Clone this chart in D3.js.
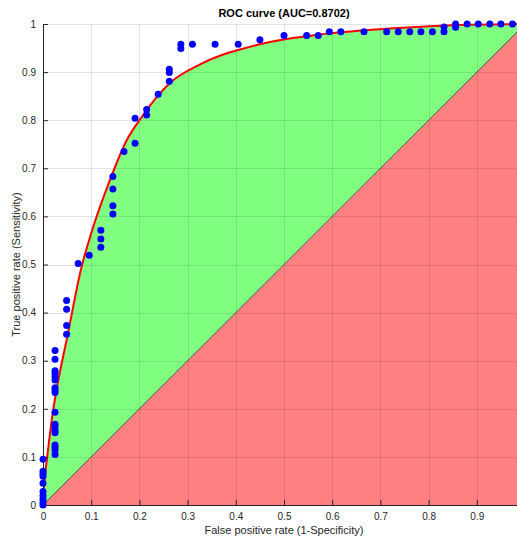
<!DOCTYPE html>
<html>
<head>
<meta charset="utf-8">
<script src="https://cdn.jsdelivr.net/npm/d3@7"></script>
<style>
  body { margin: 0; background: #fff; }
  svg { display: block; font-family: "Liberation Sans", Arial, sans-serif; }
</style>
</head>
<body>
<svg width="517" height="537"></svg>
<script>
// ROC points (false positive rate / true positive rate)
let fpr = [
  0, 0, 0, 0, 0, 0, 0, 0, 0, 0,
  0.025, 0.025, 0.025, 0.025, 0.025, 0.025, 0.025, 0.025, 0.025,
  0.025, 0.025, 0.025, 0.025, 0.025, 0.025, 0.025, 0.025, 0.025,
  0.049, 0.049, 0.049, 0.049,
  0.073, 0.096, 0.120, 0.120, 0.120,
  0.145, 0.145, 0.145, 0.145,
  0.168, 0.191, 0.191, 0.215, 0.215, 0.239,
  0.262, 0.262, 0.262, 0.286, 0.286, 0.31, 0.357, 0.405, 0.45,
  0.5, 0.547, 0.571, 0.594, 0.618, 0.666, 0.713, 0.737, 0.761, 0.784, 0.808,
  0.832, 0.832, 0.856, 0.856, 0.88, 0.903, 0.927, 0.95, 0.974
];
let tpr = [
  0, 0.005, 0.012, 0.02, 0.028, 0.045, 0.06, 0.065, 0.07, 0.095,
  0.105, 0.114, 0.12, 0.125, 0.15, 0.155, 0.162, 0.168, 0.193,
  0.234, 0.239, 0.244, 0.26, 0.267, 0.274, 0.279, 0.303, 0.321,
  0.355, 0.373, 0.407, 0.425,
  0.502, 0.519, 0.536, 0.553, 0.571,
  0.605, 0.622, 0.657, 0.683,
  0.735, 0.752, 0.804, 0.811, 0.822, 0.854,
  0.881, 0.899, 0.906, 0.949, 0.958, 0.958, 0.958, 0.958, 0.967,
  0.976, 0.976, 0.976, 0.984, 0.984, 0.984, 0.984, 0.984, 0.984, 0.984, 0.984,
  0.984, 0.994, 0.993, 1, 1, 1, 1, 1, 1
];

// fitted curve (red), estimated
let curveFpr = [0, 0.003, 0.008, 0.02, 0.03, 0.049, 0.08, 0.1, 0.139, 0.174, 0.2, 0.263, 0.326, 0.45, 0.589, 0.727, 0.865, 1];
let curveTpr = [0, 0.05, 0.094, 0.19, 0.25, 0.343, 0.495, 0.565, 0.676, 0.759, 0.8, 0.877, 0.916, 0.958, 0.98, 0.991, 0.998, 1];

// the x axis runs past the right edge of the picture, so 1 is not shown there
let xTicks = [0, 0.1, 0.2, 0.3, 0.4, 0.5, 0.6, 0.7, 0.8, 0.9];
let yTicks = [0, 0.1, 0.2, 0.3, 0.4, 0.5, 0.6, 0.7, 0.8, 0.9, 1];

let titleText = "ROC curve (AUC=0.8702)";
let xLabel = "False positive rate (1-Specificity)";
let yLabel = "True positive rate (Sensitivity)";

let svg = d3.select("svg");

let x = d3.scaleLinear().domain([0, 1]).range([43, 525]);
let y = d3.scaleLinear().domain([0, 1]).range([505, 24]);

let ink = "#262626";

// red area below the diagonal
svg.append("path")
    .attr("d", d3.line().x(d => x(d[0])).y(d => y(d[1]))([[0, 0], [1, 0], [1, 1]]) + "Z")
    .attr("fill", "#ff8080");

// green area between curve and diagonal
let curvePts = curveFpr.map((f, i) => [f, curveTpr[i]]);
let curveLine = d3.line().x(d => x(d[0])).y(d => y(d[1])).curve(d3.curveMonotoneX);
svg.append("path")
    .attr("d", curveLine(curvePts) + "L" + x(0) + "," + y(0) + "Z")
    .attr("fill", "#80ff80");

// grid on top of the fills
let grid = svg.append("g").attr("stroke", ink).attr("stroke-opacity", 0.13).attr("stroke-width", 1);
grid.selectAll("line.gx")
    .data(xTicks.slice(1))
    .enter().append("line")
    .attr("x1", d => Math.round(x(d)) + 0.5).attr("x2", d => Math.round(x(d)) + 0.5)
    .attr("y1", y(0)).attr("y2", y(1));
grid.selectAll("line.gy")
    .data(yTicks.slice(1))
    .enter().append("line")
    .attr("y1", d => Math.round(y(d)) + 0.5).attr("y2", d => Math.round(y(d)) + 0.5)
    .attr("x1", x(0)).attr("x2", x(1));

// diagonal
svg.append("line")
    .attr("x1", x(0)).attr("y1", y(0))
    .attr("x2", x(1)).attr("y2", y(1))
    .attr("stroke", "#000").attr("stroke-width", 0.6);

// fitted curve
svg.append("path")
    .attr("d", curveLine(curvePts))
    .attr("fill", "none")
    .attr("stroke", "#ff0000")
    .attr("stroke-width", 2);

// axes
let xAxis = d3.axisBottom(x).tickValues(xTicks).tickSize(-5).tickPadding(8)
    .tickFormat(d => d === 0 ? "0" : d3.format("")(d));
let yAxis = d3.axisLeft(y).tickValues(yTicks).tickSize(-5).tickPadding(7)
    .tickFormat(d => d === 0 ? "0" : d3.format("")(d));

let gx = svg.append("g").attr("transform", "translate(0," + y(0) + ")").call(xAxis);
let gy = svg.append("g").attr("transform", "translate(" + x(0) + ",0)").call(yAxis);
[gx, gy].forEach(g => {
  g.select(".domain").attr("stroke", ink);
  g.selectAll(".tick line").attr("stroke", ink);
  g.selectAll(".tick text").attr("fill", ink).attr("font-size", 10)
      .attr("font-family", "'Liberation Sans', Arial, sans-serif");
});

// points
svg.append("g")
    .selectAll("circle")
    .data(fpr.map((f, i) => [f, tpr[i]]))
    .enter().append("circle")
    .attr("cx", d => x(d[0]))
    .attr("cy", d => y(d[1]))
    .attr("r", 3.5)
    .attr("fill", "#0000ff");

// labels
svg.append("text")
    .attr("x", (x(0) + x(1)) / 2).attr("y", 17)
    .attr("text-anchor", "middle")
    .attr("font-size", 11).attr("font-weight", "bold")
    .attr("fill", "#000")
    .text(titleText);

svg.append("text")
    .attr("x", (x(0) + x(1)) / 2).attr("y", 534)
    .attr("text-anchor", "middle")
    .attr("font-size", 11)
    .attr("fill", ink)
    .text(xLabel);

svg.append("text")
    .attr("transform", "translate(20," + (y(0) + y(1)) / 2 + ") rotate(-90)")
    .attr("text-anchor", "middle")
    .attr("font-size", 11)
    .attr("fill", ink)
    .text(yLabel);
</script>
</body>
</html>
